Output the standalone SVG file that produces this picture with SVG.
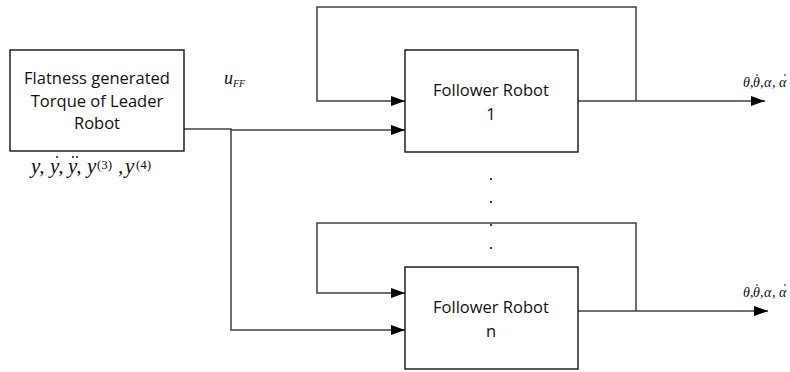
<svg xmlns="http://www.w3.org/2000/svg" width="790" height="372" viewBox="0 0 790 372">
<defs>
<marker id="ah" markerWidth="14" markerHeight="10" refX="14" refY="5" orient="auto" markerUnits="userSpaceOnUse">
<path d="M0,0 L14,5 L0,10 Z" fill="#000"/>
</marker>
<style>
.box{fill:#fff;stroke:#000;stroke-width:1.3}
.ln{fill:none;stroke:#404040;stroke-width:1.5}
.t{font-family:"Open Sans","Liberation Sans",sans-serif;font-size:16.5px;fill:#111;text-anchor:middle}
.m{font-family:"Liberation Serif",serif;font-style:italic;fill:#111}
.sup{font-style:normal;font-size:13px}
</style>
</defs>
<rect width="790" height="372" fill="#fff"/>
<g id="connectors">
<path class="ln" d="M184,129 H231 V330 H405" marker-end="url(#ah)"/>
<path class="ln" d="M231,130 H405" marker-end="url(#ah)"/>
<path class="ln" d="M578,101 H765" marker-end="url(#ah)"/>
<path class="ln" d="M636,101 V7 H317 V101 H405" marker-end="url(#ah)"/>
<path class="ln" d="M578,311 H768" marker-end="url(#ah)"/>
<path class="ln" d="M636,311 V223 H317 V293 H405" marker-end="url(#ah)"/>
</g>
<g id="leader">
<rect class="box" x="10" y="50" width="174" height="101"/>
<text class="t" x="97" y="84">Flatness generated</text>
<text class="t" x="97" y="107">Torque of Leader</text>
<text class="t" x="97" y="129">Robot</text>
</g>
<g id="follower1">
<rect class="box" x="405" y="50" width="173" height="102"/>
<text class="t" x="491" y="96">Follower Robot</text>
<text class="t" x="491" y="120">1</text>
</g>
<g id="followern">
<rect class="box" x="405" y="267" width="173" height="102"/>
<text class="t" x="491" y="313">Follower Robot</text>
<text class="t" x="491" y="337">n</text>
</g>
<g id="labels">
<text class="m" x="224" y="84" font-size="18">u<tspan font-size="10" dy="3">FF</tspan></text>
<text class="m" y="173" font-size="21"><tspan x="31">y,</tspan><tspan x="50">y,</tspan><tspan x="68">y,</tspan><tspan x="87">y</tspan><tspan class="sup" x="97" y="169">(3)</tspan><tspan x="118" y="173">,</tspan><tspan x="125">y</tspan><tspan class="sup" x="136" y="169">(4)</tspan></text>
<text class="m" x="743 750 753 760 764 772 779" y="87" font-size="14">θ,θ,α,α</text>
<text class="m" x="743 750 753 760 764 772 779" y="297" font-size="14">θ,θ,α,α</text>
<g fill="#000">
<circle cx="57" cy="157" r="0.9"/>
<circle cx="73" cy="157" r="0.9"/>
<circle cx="77" cy="157" r="0.9"/>
<circle cx="757" cy="75" r="0.8"/>
<circle cx="785" cy="75" r="0.8"/>
<circle cx="757" cy="285" r="0.8"/>
<circle cx="785" cy="285" r="0.8"/>
<circle cx="491" cy="179" r="1"/>
<circle cx="491" cy="202" r="1"/>
<circle cx="491" cy="225" r="1"/>
<circle cx="491" cy="248" r="1"/>
</g>
</g>
</svg>
